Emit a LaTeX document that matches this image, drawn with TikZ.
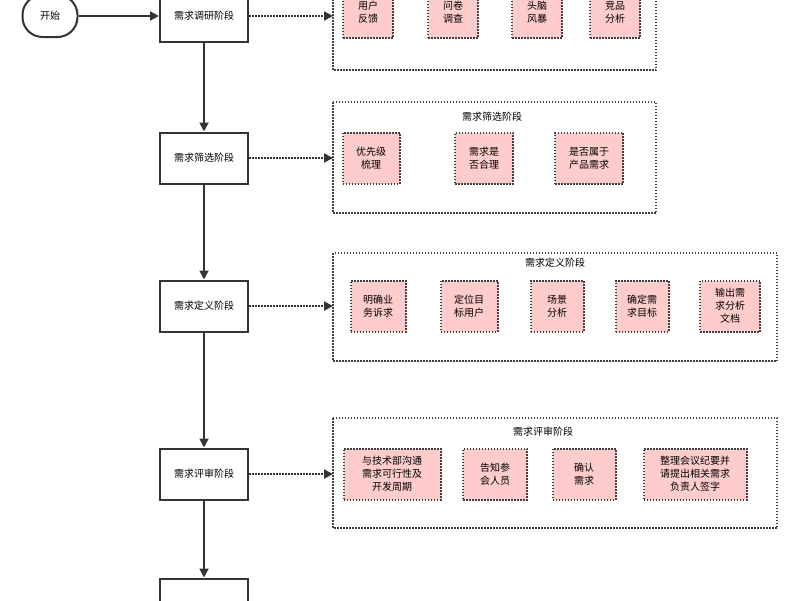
\documentclass[tikz,border=0pt]{standalone}
\usepackage{fontspec}
\setmainfont{Noto Sans CJK SC}
\usetikzlibrary{arrows.meta}
\begin{document}
\begin{tikzpicture}[x=1pt,y=-1pt,thick,font=\fontsize{10}{13}\selectfont,
    stage/.style={draw=black!80,line width=2pt,minimum width=88pt,minimum height=51pt,inner sep=0pt},
    item/.style={draw=black!75,dash pattern=on 1.5pt off 1.5pt,line width=2pt,fill=red!20,align=center,inner sep=0pt,minimum height=51pt},
    group/.style={draw=black!75,dash pattern=on 1.5pt off 1.5pt,line width=2pt},
    flow/.style={-{Triangle[length=9pt,width=9pt]},line width=1.8pt,black!80},
    link/.style={flow,dash pattern=on 1.5pt off 1.5pt}]
  \useasboundingbox (0,0) rectangle (800,600);
  \clip (0,0) rectangle (800,600);

  \node[draw=black!80,line width=2pt,rounded corners=20pt,minimum width=55pt,minimum height=42pt] (start) at (50,16) {开始};
  \node[stage] (s1) at (204,16) {需求调研阶段};
  \node[stage] (s2) at (204,158) {需求筛选阶段};
  \node[stage] (s3) at (204,306) {需求定义阶段};
  \node[stage] (s4) at (204,474) {需求评审阶段};
  \node[stage] (s5) at (204,604) {};

  % stage groups
  \draw[group] (333,-40) rectangle (656,70);
  \draw[group] (333,102) rectangle (656,213);
  \draw[group] (333,253) rectangle (777,361);
  \draw[group] (333,418) rectangle (777,528);
  \node (t2) at (492,117) {需求筛选阶段};
  \node (t3) at (555,263) {需求定义阶段};
  \node (t4) at (543,432) {需求评审阶段};
  \coordinate (g1) at (333,16);
  \coordinate (g2) at (333,158);
  \coordinate (g3) at (333,306);
  \coordinate (g4) at (333,474);

  % items
  \node[item,minimum width=50pt] (a1) at (368,12) {用户\\反馈};
  \node[item,minimum width=50pt] (a2) at (453,12) {问卷\\调查};
  \node[item,minimum width=50pt] (a3) at (537,12) {头脑\\风暴};
  \node[item,minimum width=50pt] (a4) at (615,12) {竞品\\分析};
  \node[item,minimum width=57pt] (b1) at (371,158) {优先级\\梳理};
  \node[item,minimum width=58pt] (b2) at (484,158) {需求是\\否合理};
  \node[item,minimum width=68pt] (b3) at (589,158) {是否属于\\产品需求};
  \node[item,minimum width=55pt] (c1) at (378,306) {明确业\\务诉求};
  \node[item,minimum width=57pt] (c2) at (469,306) {定位目\\标用户};
  \node[item,minimum width=53pt] (c3) at (557,306) {场景\\分析};
  \node[item,minimum width=53pt] (c4) at (642,306) {确定需\\求目标};
  \node[item,minimum width=60pt] (c5) at (730,306) {输出需\\求分析\\文档};
  \node[item,minimum width=97pt] (d1) at (392,474) {与技术部沟通\\需求可行性及\\开发周期};
  \node[item,minimum width=64pt] (d2) at (495,474) {告知参\\会人员};
  \node[item,minimum width=63pt] (d3) at (584,474) {确认\\需求};
  \node[item,minimum width=103pt] (d4) at (695,474) {整理会议纪要并\\请提出相关需求\\负责人签字};

  \draw[flow] (start) -- (s1);
  \draw[flow] (s1) -- (s2);
  \draw[flow] (s2) -- (s3);
  \draw[flow] (s3) -- (s4);
  \draw[flow] (s4) -- (s5);
  \draw[link] (s1) -- (g1);
  \draw[link] (s2) -- (g2);
  \draw[link] (s3) -- (g3);
  \draw[link] (s4) -- (g4);
\end{tikzpicture}
\end{document}
